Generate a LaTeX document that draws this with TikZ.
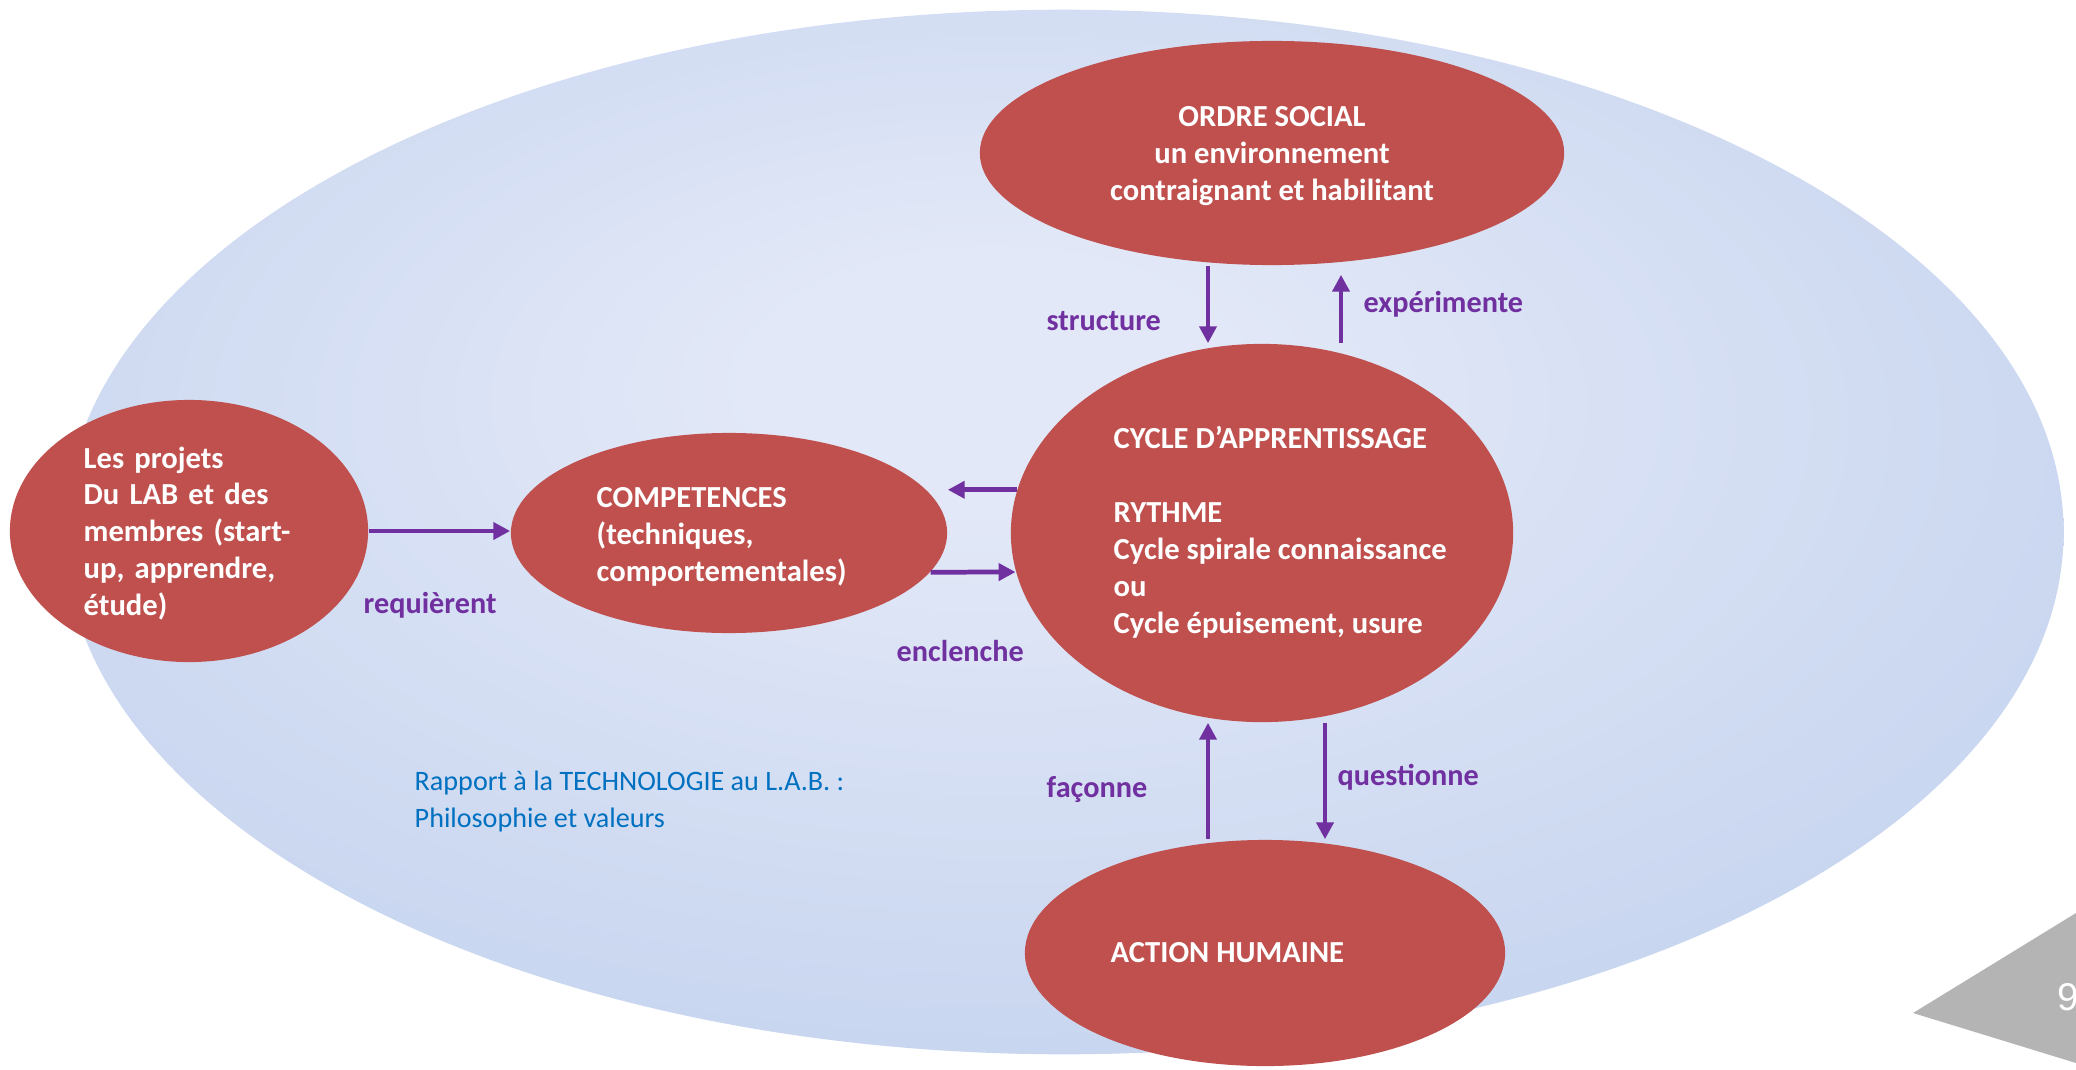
\documentclass[tikz,border=0pt]{standalone}
\usepackage{fontspec}
\setmainfont{Carlito}
\newfontfamily\numfont{Liberation Sans}
\usepackage{xcolor}
\usetikzlibrary{shapes,arrows.meta,positioning}
\tikzset{>={Triangle[length=4.8pt,width=4.8pt]}}

\definecolor{bubblered}{HTML}{C0504D}
\definecolor{linkpurple}{HTML}{7030A0}
\definecolor{notesblue}{HTML}{0070C0}
\definecolor{glowin}{HTML}{E2E8F7}
\definecolor{glowmid}{HTML}{C3D2EE}
\definecolor{glowout}{HTML}{D4DEF2}
\definecolor{tabgray}{HTML}{B4B4B4}

\pgfdeclareradialshading{glow}{\pgfpoint{-2bp}{8bp}}{color(0bp)=(glowin); color(6bp)=(glowin); color(34bp)=(glowmid); color(48bp)=(glowmid); color(60bp)=(glowout)}

\begin{document}
\begin{tikzpicture}[x=0.01cm, y=-0.01cm,
                          bubble/.style={ellipse, fill=bubblered, draw=none, inner sep=0pt},
                          bubbletext/.style={text=white, font=\bfseries\fontsize{8.7}{10.5}\selectfont, align=left, inner sep=0pt},
                          link/.style={->, linkpurple, line width=1.35pt},
                          linktext/.style={text=linkpurple, font=\bfseries\fontsize{8.6}{10.5}\selectfont, anchor=base west, inner sep=0pt},
                         ]

\useasboundingbox (0,0) rectangle (2076,1070);
\clip (0,0) rectangle (2076,1070);

% fond
\shade[shading=glow] (1064,532) ellipse [x radius=9.99cm, y radius=5.22cm];

\node[bubble, minimum width=3.58cm, minimum height=2.62cm] (projets) at (189,531) {};
\node[bubble, minimum width=4.36cm, minimum height=2.00cm] (comp) at (729,533) {};
\node[bubble, minimum width=5.02cm, minimum height=3.78cm] (cycle) at (1262,533) {};
\node[bubble, minimum width=5.84cm, minimum height=2.24cm] (ordre) at (1272,153) {};
\node[bubble, minimum width=4.80cm, minimum height=2.26cm] (action) at (1265,953) {};

% les textes
\node[bubbletext, text width=2.11cm, anchor=base west] (projetstxt) at (83,468)
  {Les projets\\ \makebox[2.11cm][s]{Du LAB et des}\\ \makebox[2.11cm][s]{membres (start-}\\ \makebox[2.11cm][s]{up, apprendre,}\\ étude)};
\node[bubbletext, anchor=base west] (comptxt) at (596,581) {COMPETENCES\\(techniques,\\comportementales)};
\node[bubbletext, anchor=base west] (cycletxt) at (1113,633)
  {CYCLE D’APPRENTISSAGE\\[10.5pt]RYTHME\\Cycle spirale connaissance\\ou\\Cycle épuisement, usure};
\node[bubbletext, align=center, anchor=base] (ordretxt) at (1272,200) {ORDRE SOCIAL\\un environnement\\contraignant et habilitant};
\node[bubbletext, anchor=base west] (actiontxt) at (1110,962) {ACTION HUMAINE};

\coordinate (xs) at (1208,0);
\coordinate (xe) at (1341,0);
\coordinate (xf) at (1208,0);
\coordinate (xq) at (1325,0);

\draw[link] (projets.east) -- (projets.east -| comp.west);
\draw[link] (cycle.170) -- (cycle.170 -| comp.east);
\draw[link] (comp.-11.3) -- (cycle.189.3);
\draw[link] (ordre.south -| xs) -- (cycle.north -| xs);
\draw[link, shorten >=0.09cm] (cycle.north -| xe) -- (ordre.south -| xe);
\draw[link] (action.north -| xf) -- (cycle.south -| xf);
\draw[link] (cycle.south -| xq) -- (action.north -| xq);

\node[linktext] (requierent) at (363,613) {requièrent};
\node[linktext] (enclenche) at (896,661) {enclenche};
\node[linktext] (structure) at (1046,330) {structure};
\node[linktext] (experimente) at (1363,312) {expérimente};
\node[linktext] (faconne) at (1046,797) {façonne};
\node[linktext] (questionne) at (1337,785) {questionne};

\node[text=notesblue, font=\fontsize{8}{10.5}\selectfont, align=left, anchor=base west, inner sep=0pt] (rapport) at (414,827)
  {Rapport à la TECHNOLOGIE au L.A.B. :\\Philosophie et valeurs};

% onglet de page
\fill[tabgray] (1913,1013) -- (2076,913) -- (2076,1063) -- cycle;
\node[text=white, font=\numfont\fontsize{11}{13}\selectfont, anchor=base west, inner sep=0pt] (pagenum) at (2057,1010) {9};

\end{tikzpicture}
\end{document}
